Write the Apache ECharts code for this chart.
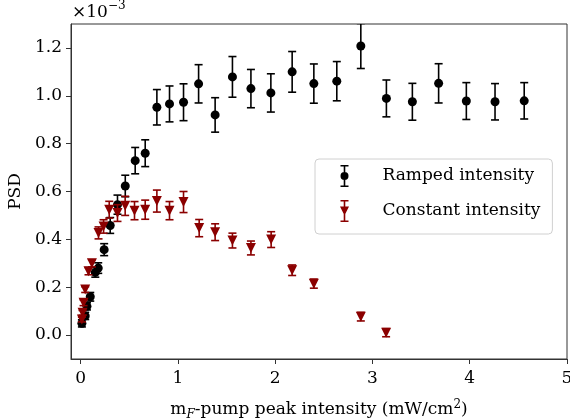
<!DOCTYPE html>
<html>
<head>
<meta charset="utf-8">
<script src="https://cdn.jsdelivr.net/npm/echarts@6/dist/echarts.min.js"></script>
<style>html,body{margin:0;padding:0;background:#fff}#chart{width:570px;height:420px}</style>
</head>
<body>
<div id="chart"></div>
<script>
// Ramped intensity (black circles), PSD in units of 1e-3
const rampedX = [0.012, 0.046, 0.064, 0.098, 0.150, 0.180, 0.241, 0.303, 0.378, 0.458, 0.560, 0.663, 0.783, 0.913, 1.057, 1.212, 1.382, 1.560, 1.750, 1.955, 2.174, 2.397, 2.633, 2.880, 3.143, 3.410, 3.680, 3.965, 4.260, 4.560];
const rampedY = [0.049, 0.080, 0.120, 0.160, 0.262, 0.280, 0.357, 0.458, 0.545, 0.623, 0.729, 0.760, 0.952, 0.966, 0.973, 1.050, 0.920, 1.079, 1.030, 1.012, 1.100, 1.051, 1.061, 1.208, 0.989, 0.975, 1.052, 0.978, 0.975, 0.979];
const rampedErr = [0.015, 0.015, 0.015, 0.018, 0.020, 0.022, 0.025, 0.033, 0.040, 0.045, 0.055, 0.056, 0.074, 0.075, 0.077, 0.080, 0.072, 0.085, 0.080, 0.080, 0.085, 0.082, 0.082, 0.094, 0.077, 0.077, 0.082, 0.077, 0.076, 0.076];

// Constant intensity (dark red down-triangles)
const constX = [0.012, 0.019, 0.029, 0.046, 0.080, 0.115, 0.183, 0.235, 0.293, 0.378, 0.457, 0.553, 0.663, 0.783, 0.913, 1.057, 1.218, 1.382, 1.560, 1.750, 1.958, 2.174, 2.397, 2.880, 3.140];
const constY = [0.065, 0.093, 0.135, 0.190, 0.267, 0.300, 0.427, 0.454, 0.524, 0.510, 0.540, 0.520, 0.524, 0.560, 0.520, 0.556, 0.447, 0.430, 0.395, 0.364, 0.399, 0.271, 0.215, 0.077, 0.010];
const constErr = [0.010, 0.010, 0.012, 0.012, 0.015, 0.015, 0.025, 0.028, 0.035, 0.035, 0.040, 0.038, 0.040, 0.046, 0.038, 0.044, 0.036, 0.035, 0.031, 0.029, 0.033, 0.022, 0.019, 0.018, 0.017];

const xTicks = [0, 1, 2, 3, 4, 5];
const yTicks = [0.0, 0.2, 0.4, 0.6, 0.8, 1.0, 1.2];
const seriesNames = ['Ramped intensity', 'Constant intensity'];

const FONT = 'DejaVu Serif';
const BLACK = '#000000';
const RED = '#8b0000';

const zip3 = (a, b, c) => a.map((v, i) => [v, b[i], c[i]]);

function errRender(color) {
  return function (params, api) {
    const x = api.value(0), y = api.value(1), e = api.value(2);
    const t = api.coord([x, y + e]);
    const b = api.coord([x, y - e]);
    const hw = 4;
    const style = { stroke: color, lineWidth: 1.6 };
    return {
      type: 'group',
      children: [
        { type: 'line', shape: { x1: t[0], y1: t[1], x2: b[0], y2: b[1] }, style: style },
        { type: 'line', shape: { x1: t[0] - hw, y1: t[1], x2: t[0] + hw, y2: t[1] }, style: style },
        { type: 'line', shape: { x1: b[0] - hw, y1: b[1], x2: b[0] + hw, y2: b[1] }, style: style }
      ]
    };
  };
}

const iconBars = 'M1 0H9V1.6H1Z M4.2 0H5.8V22H4.2Z M1 20.4H9V22H1Z ';
const iconCircle = iconBars + 'M1 11A4 4 0 1 1 9 11A4 4 0 1 1 1 11Z';
const iconTri = iconBars + 'M0.5 6.5H9.5L5 15.5Z';

const chart = echarts.init(document.getElementById('chart'), null, { renderer: 'canvas' });
chart.setOption({
  animation: false,
  backgroundColor: '#ffffff',
  textStyle: { fontFamily: FONT },
  grid: { left: 71, right: 3, top: 24, bottom: 61, containLabel: false, outerBoundsMode: 'none', show: true, borderColor: '#333', borderWidth: 1, backgroundColor: 'transparent' },
  xAxis: {
    type: 'value', min: -0.1, max: 5,
    axisLine: { show: true, onZero: false, lineStyle: { color: '#333', width: 1 } },
    axisTick: { show: true, inside: false, length: 5, customValues: xTicks, lineStyle: { color: '#333' } },
    axisLabel: { customValues: xTicks, margin: 11, color: '#000', fontFamily: FONT, fontSize: 17, formatter: v => String(v) },
    splitLine: { show: false },
    name: '{m|m}{s|F}{m|-pump peak intensity (mW/cm}{p|2}{m|)}',
    nameLocation: 'middle', nameGap: 40,
    nameTextStyle: {
      color: '#000', fontFamily: FONT, fontSize: 17,
      rich: {
        m: { fontFamily: FONT, fontSize: 17, lineHeight: 22, color: '#000' },
        s: { fontFamily: FONT, fontSize: 12, fontStyle: 'italic', lineHeight: 12, verticalAlign: 'bottom', color: '#000' },
        p: { fontFamily: FONT, fontSize: 12, lineHeight: 12, verticalAlign: 'top', color: '#000' }
      }
    }
  },
  yAxis: {
    type: 'value', min: -0.1, max: 1.3,
    axisLine: { show: true, onZero: false, lineStyle: { color: '#333', width: 1 } },
    axisTick: { show: true, inside: false, length: 5, customValues: yTicks, lineStyle: { color: '#333' } },
    axisLabel: { customValues: yTicks, margin: 9, color: '#000', fontFamily: FONT, fontSize: 17, formatter: v => v.toFixed(1) },
    splitLine: { show: false },
    name: 'PSD', nameLocation: 'middle', nameGap: 44, nameRotate: 90,
    nameTextStyle: { color: '#000', fontFamily: FONT, fontSize: 17 }
  },
  legend: {
    orient: 'vertical', left: 315, top: 159,
    padding: [6, 12, 12, 25],
    itemWidth: 10, itemHeight: 22, itemGap: 13,
    backgroundColor: 'rgba(255,255,255,0.8)', borderColor: '#d0d0d0', borderWidth: 1, borderRadius: 4,
    formatter: name => '{sp| }' + name,
    textStyle: { color: '#000', fontFamily: FONT, fontSize: 17, rich: { sp: { width: 28 } } },
    data: [
      { name: seriesNames[0], icon: 'path://' + iconCircle },
      { name: seriesNames[1], icon: 'path://' + iconTri }
    ]
  },
  graphic: [
    { type: 'text', left: 72, top: 4, style: { text: '×10', font: '17px "DejaVu Serif"', fill: '#000' } },
    { type: 'text', left: 108, top: 0, style: { text: '−3', font: '12px "DejaVu Serif"', fill: '#000' } }
  ],
  series: [
    { type: 'custom', name: 'rampedErr', renderItem: errRender(BLACK), data: zip3(rampedX, rampedY, rampedErr), clip: true, z: 2, encode: { x: 0, y: 1 }, silent: true },
    { type: 'scatter', name: seriesNames[0], data: rampedX.map((x, i) => [x, rampedY[i]]), symbol: 'circle', symbolSize: 9, itemStyle: { color: BLACK, opacity: 1 }, z: 3 },
    { type: 'custom', name: 'constErr', renderItem: errRender(RED), data: zip3(constX, constY, constErr), clip: true, z: 4, encode: { x: 0, y: 1 }, silent: true },
    { type: 'scatter', name: seriesNames[1], data: constX.map((x, i) => [x, constY[i]]), symbol: 'triangle', symbolRotate: 180, symbolSize: [10, 10], itemStyle: { color: RED, opacity: 1 }, z: 5 }
  ]
});
</script>
</body>
</html>
